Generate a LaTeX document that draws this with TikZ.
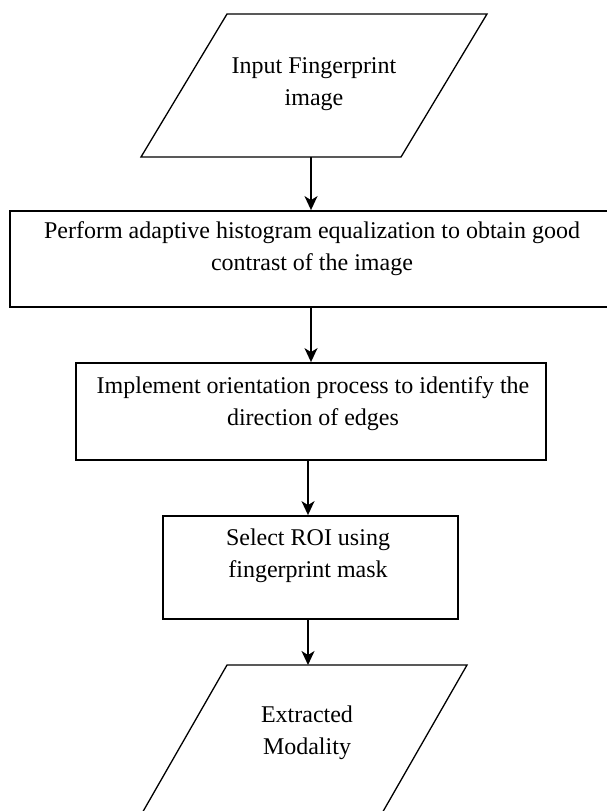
\documentclass[tikz,border=0pt]{standalone}
\usepackage{fontspec}
\setmainfont{Liberation Serif}
\usetikzlibrary{arrows.meta}
\begin{document}
\begin{tikzpicture}[x=1pt,y=-1pt,
  every node/.style={font=\fontsize{24}{32}\selectfont},
  stepbox/.style={draw,line width=1.8pt,inner sep=0pt},
  ioline/.style={line width=1.3pt,line join=miter},
  txt/.style={align=center,inner sep=0pt},
  flow/.style={line width=1.8pt,-{Stealth[length=14pt,width=13pt,inset=4pt]}}]
\useasboundingbox (0,0) rectangle (607,811);

% input parallelogram
\coordinate (inA) at (227,14);
\coordinate (inB) at (487,14);
\coordinate (inC) at (401,157);
\coordinate (inD) at (141,157);
\draw[ioline] (inA) -- (inB) -- (inC) -- (inD) -- cycle;
\node[txt] (intxt) at (314,84) {Input Fingerprint\\image};

% output parallelogram
\coordinate (outA) at (227,665);
\coordinate (outB) at (467,665);
\coordinate (outC) at (381,815);
\coordinate (outD) at (141,815);
\draw[ioline] (outA) -- (outB) -- (outC) -- (outD) -- cycle;
\node[txt] (outtxt) at (307,733) {Extracted\\Modality};

% processing steps
\node[stepbox,minimum width=602pt,minimum height=96pt] (s1) at (311,259) {};
\node[txt] (s1txt) at (312,249) {Perform adaptive histogram equalization to obtain good\\contrast of the image};

\node[stepbox,minimum width=470pt,minimum height=97pt] (s2) at (311,411.5) {};
\node[txt] (s2txt) at (313,404) {Implement orientation process to identify the\\direction of edges};

\node[stepbox,minimum width=295pt,minimum height=103pt] (s3) at (310.5,567.5) {};
\node[txt] (s3txt) at (308,556) {Select ROI using\\fingerprint mask};

% connectors
\coordinate (inS) at (311,157);
\coordinate (outN) at (308,665);
\draw[flow] (inS) -- (inS |- s1.north);
\draw[flow] (s1.south) -- (s2.north);
\draw[flow] ([xshift=-3pt]s2.south) -- ([xshift=-2.5pt]s3.north);
\draw[flow] (outN |- s3.south) -- (outN);
\end{tikzpicture}
\end{document}
